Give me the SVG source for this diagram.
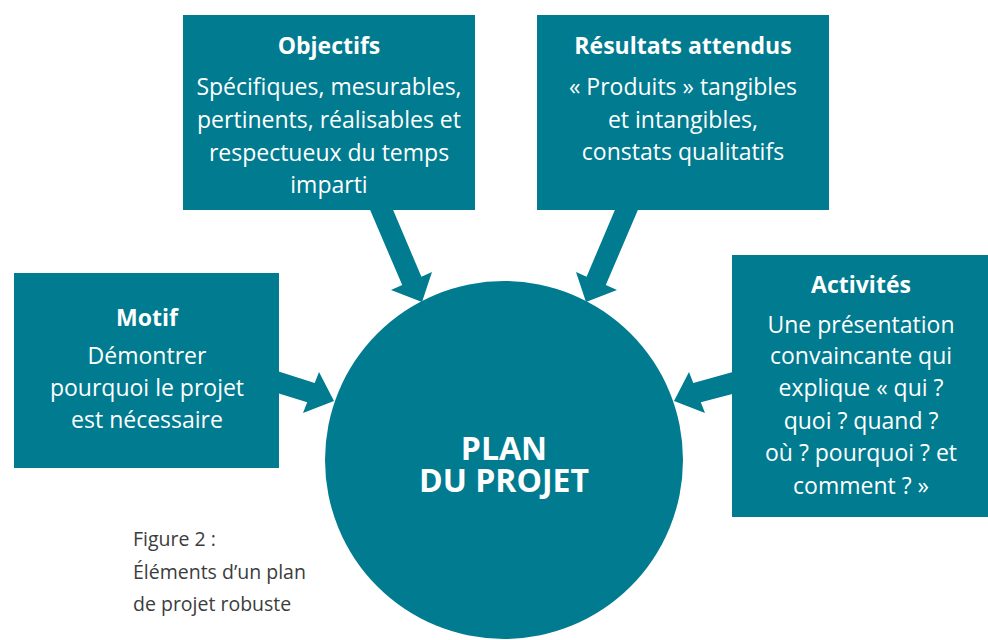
<svg xmlns="http://www.w3.org/2000/svg" width="988" height="640" viewBox="0 0 988 640">
<style>
.box{fill:#007b8f}
.arr{fill:#007b8f}
.t{font-family:"Open Sans","Noto Sans","Liberation Sans",sans-serif;fill:#fff;text-anchor:middle}
.h{font-size:23px;font-weight:700}
.b{font-size:23px;font-weight:400}
.c{font-size:32px;font-weight:700}
.cap{font-family:"Open Sans","Noto Sans","Liberation Sans",sans-serif;font-size:19.5px;fill:#3c3c3c}
</style>
<rect width="988" height="640" fill="#fff"/>
<g id="connectors">
<polygon class="arr" points="368,205 391,205 421.4,276.7 432,272 422,302 391,290 402.2,285.1"/>
<polygon class="arr" points="640,205 617,205 586.6,276.7 576,272 586,302 617,290 605.8,285.1"/>
<polygon class="arr" points="274,370 274,392 307.2,402.3 303,413 334,401 319,372 314.7,383"/>
<polygon class="arr" points="740,370 740,392 700.8,402.3 705,413 674,401 689,372 693.3,383"/>
</g>
<g id="objectifs">
<rect class="box" x="183" y="15" width="292" height="195"/>
<text class="t h" x="329" y="54">Objectifs</text>
<text class="t b" x="329" y="95">Spécifiques, mesurables,</text>
<text class="t b" x="329" y="128">pertinents, réalisables et</text>
<text class="t b" x="329" y="161">respectueux du temps</text>
<text class="t b" x="329" y="193">imparti</text>
</g>
<g id="resultats">
<rect class="box" x="537" y="15" width="292" height="195"/>
<text class="t h" x="683" y="54">Résultats attendus</text>
<text class="t b" x="683" y="95">« Produits » tangibles</text>
<text class="t b" x="683" y="128">et intangibles,</text>
<text class="t b" x="683" y="160">constats qualitatifs</text>
</g>
<g id="motif">
<rect class="box" x="14" y="273" width="265" height="195"/>
<text class="t h" x="147" y="326">Motif</text>
<text class="t b" x="147" y="364">Démontrer</text>
<text class="t b" x="147" y="396">pourquoi le projet</text>
<text class="t b" x="147" y="428">est nécessaire</text>
</g>
<g id="activites">
<rect class="box" x="732" y="255" width="256" height="262"/>
<text class="t h" x="861" y="293">Activités</text>
<text class="t b" x="861" y="333">Une présentation</text>
<text class="t b" x="861" y="364">convaincante qui</text>
<text class="t b" x="861" y="396">explique « qui ?</text>
<text class="t b" x="861" y="429">quoi ? quand ?</text>
<text class="t b" x="861" y="461">où ? pourquoi ? et</text>
<text class="t b" x="861" y="494">comment ? »</text>
</g>
<g id="plan">
<circle class="box" cx="504" cy="460" r="179"/>
<text class="t c" x="504" y="460">PLAN</text>
<text class="t c" x="504" y="492">DU PROJET</text>
</g>
<g id="caption">
<text class="cap" x="133" y="546">Figure 2 :</text>
<text class="cap" x="133" y="579">Éléments d’un plan</text>
<text class="cap" x="133" y="611">de projet robuste</text>
</g>
</svg>
